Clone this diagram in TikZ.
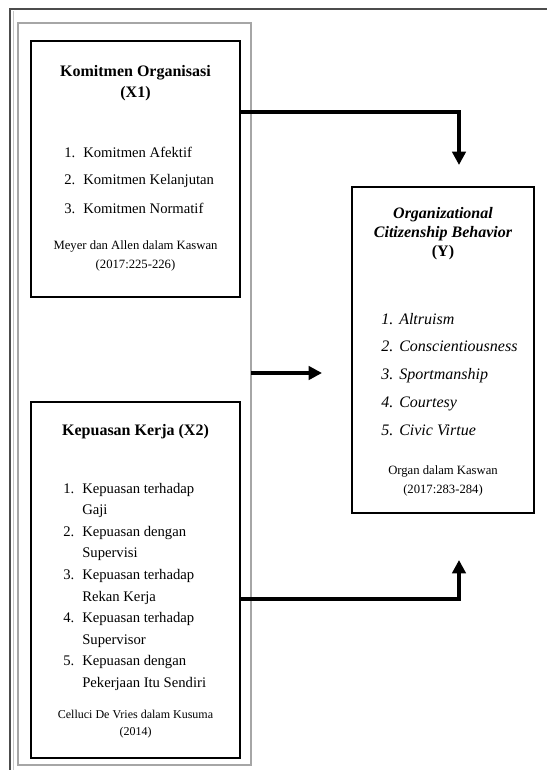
\documentclass[tikz,border=0pt]{standalone}
\usepackage{fontspec}
\setmainfont{Liberation Serif}
\usetikzlibrary{arrows.meta}

\begin{document}
\begin{tikzpicture}[
    x=0.75pt, y=-0.75pt,
    frame/.style={rectangle, draw=gray!70, line width=0.9pt, inner sep=0pt, outer sep=0pt},
    var/.style={rectangle, draw=black, line width=2.2pt, inner sep=0pt, outer sep=0pt},
    head/.style={inner sep=0pt, anchor=base, font=\fontsize{12}{14}\selectfont\bfseries},
    num/.style={inner sep=0pt, anchor=base west, font=\fontsize{11}{13}\selectfont},
    inum/.style={inner sep=0pt, anchor=base west, font=\fontsize{12}{14}\selectfont\itshape},
    src/.style={inner sep=0pt, anchor=base, font=\fontsize{9.5}{11}\selectfont},
    link/.style={line width=3pt, -{Triangle[width=10pt,length=10pt]}}
]
\useasboundingbox (0,0) rectangle (547,770);

% page border and the frame round the two independent variables
\draw[black!70, line width=0.8pt] (10,770) -- (10,9) -- (547,9);
\draw[gray!45, line width=0.8pt] (13.5,770) -- (13.5,11);
\node[frame, minimum width=174.75pt, minimum height=556.5pt] (frame) at (134.5,394) {};

% 1. Komitmen Organisasi (X1)
\node[var, minimum width=156.75pt, minimum height=192pt] (x1) at (135.5,169) {};
\node[head] (x1t1) at (135.5,77) {Komitmen Organisasi};
\node[head] (x1t2) at (135.5,98) {(X1)};
\foreach \t [count=\i] in {Komitmen Afektif, Komitmen Kelanjutan, Komitmen Normatif} {
    \node[num] (x1n\i) at (64,{157+28*(\i-1)}) {\i.};
    \node[num] (x1i\i) at (83,{157+28*(\i-1)}) {\t};
}
\node[src] (x1s1) at (135.5,249) {Meyer dan Allen dalam Kaswan};
\node[src] (x1s2) at (135.5,268) {(2017:225-226)};

% 2. Kepuasan Kerja (X2)
\node[var, minimum width=156.75pt, minimum height=267pt] (x2) at (135.5,580) {};
\node[head] (x2t) at (135.5,435) {Kepuasan Kerja (X2)};
\foreach \t [count=\i] in {Kepuasan terhadap, Gaji, Kepuasan dengan, Supervisi,
    Kepuasan terhadap, Rekan Kerja, Kepuasan terhadap, Supervisor,
    Kepuasan dengan, Pekerjaan Itu Sendiri} {
    \node[num] (x2i\i) at (82,{493+21.6*(\i-1)}) {\t};
}
\foreach \i in {1,...,5} {
    \node[num] (x2n\i) at (63,{493+43.2*(\i-1)}) {\i.};
}
\node[src, font=\fontsize{9}{11}\selectfont] (x2s1) at (135.5,718) {Celluci De Vries dalam Kusuma};
\node[src, font=\fontsize{9}{11}\selectfont] (x2s2) at (135.5,735) {(2014)};

% 3. Organizational Citizenship Behavior (Y)
\node[var, minimum width=136.5pt, minimum height=244.5pt] (y) at (443,350) {};
\node[head, font=\fontsize{12}{14}\selectfont\bfseries\itshape] (yt1) at (443,218) {Organizational};
\node[head, font=\fontsize{12}{14}\selectfont\bfseries\itshape] (yt2) at (443,237) {Citizenship Behavior};
\node[head] (yt3) at (443,256) {(Y)};
\foreach \t [count=\i] in {Altruism, Conscientiousness, Sportmanship, Courtesy, Civic Virtue} {
    \node[inum] (yn\i) at (381,{324+27.75*(\i-1)}) {\i.};
    \node[inum] (yi\i) at (399,{324+27.75*(\i-1)}) {\t};
}
\node[src] (ys1) at (443,474) {Organ dalam Kaswan};
\node[src] (ys2) at (443,493) {(2017:283-284)};

% 4. Relationships
\coordinate (t1) at (459,165);
\coordinate (t2) at (322,373);
\coordinate (t3) at (459,560);
\draw[link] (x1.north east) ++(0,71) -| (t1);
\draw[link] (frame.north east) ++(0,350) -- (t2);
\draw[link] (x2.north east) ++(0,197) -| (t3);

\end{tikzpicture}
\end{document}
